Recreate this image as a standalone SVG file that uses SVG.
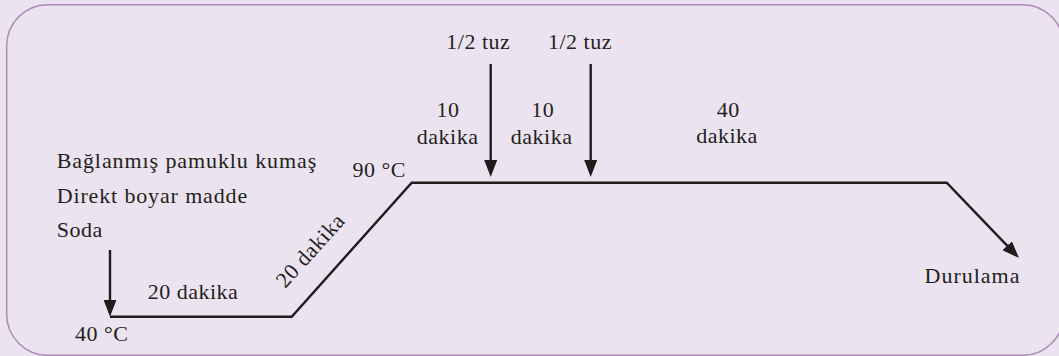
<svg xmlns="http://www.w3.org/2000/svg" width="1059" height="356" viewBox="0 0 1059 356">
<defs>
<marker id="ah" viewBox="0 0 17 13" refX="12" refY="6.5" markerWidth="17" markerHeight="13" markerUnits="userSpaceOnUse" orient="auto">
<path d="M0,0 L17,6.5 L0,13 Z" fill="#1f1c1d"/>
</marker>
</defs>
<rect x="0" y="0" width="1059" height="356" fill="#ebe3ef"/>
<rect id="frame" x="6.7" y="4.8" width="1057" height="350.5" rx="41" ry="41" fill="#ebe3ef" stroke="#ad8bb8" stroke-width="1.5"/>
<g id="connectors" fill="none" stroke="#1f1c1d" stroke-width="2.4">
<polyline points="110,316.7 291.7,316.7 411.7,182.7 946.7,182.7 1015.5,254.4" marker-end="url(#ah)"/>
<line x1="110" y1="250" x2="110" y2="311.7" marker-end="url(#ah)"/>
<line x1="490.7" y1="64" x2="490.7" y2="172" marker-end="url(#ah)"/>
<line x1="590.7" y1="64" x2="590.7" y2="172" marker-end="url(#ah)"/>
</g>
<g font-family="Liberation Serif, serif" font-size="22" fill="#231f20" letter-spacing="0.5">
<g id="inputs">
<text x="56.7" y="168" textLength="260" lengthAdjust="spacing">Bağlanmış pamuklu kumaş</text>
<text x="56.7" y="202.7" textLength="191" lengthAdjust="spacing">Direkt boyar madde</text>
<text x="56.7" y="236.7">Soda</text>
</g>
<g id="start">
<text x="75" y="340.7">40 °C</text>
<text x="193" y="299.3" text-anchor="middle">20 dakika</text>
</g>
<g id="ramp">
<text transform="translate(315.7,255.3) rotate(-48)" text-anchor="middle">20 dakika</text>
<text x="406" y="176.7" text-anchor="end">90 °C</text>
</g>
<g id="salt1" text-anchor="middle">
<text x="478.3" y="49.3">1/2 tuz</text>
<text x="448" y="116.7">10</text>
<text x="447.7" y="144">dakika</text>
</g>
<g id="salt2" text-anchor="middle">
<text x="580" y="49.3">1/2 tuz</text>
<text x="542.7" y="116.7">10</text>
<text x="541.7" y="144">dakika</text>
</g>
<g id="hold" text-anchor="middle">
<text x="728.3" y="116.7">40</text>
<text x="727" y="142.7">dakika</text>
</g>
<g id="rinse" text-anchor="middle">
<text x="972.5" y="283.3" letter-spacing="1">Durulama</text>
</g>
</g>
</svg>
